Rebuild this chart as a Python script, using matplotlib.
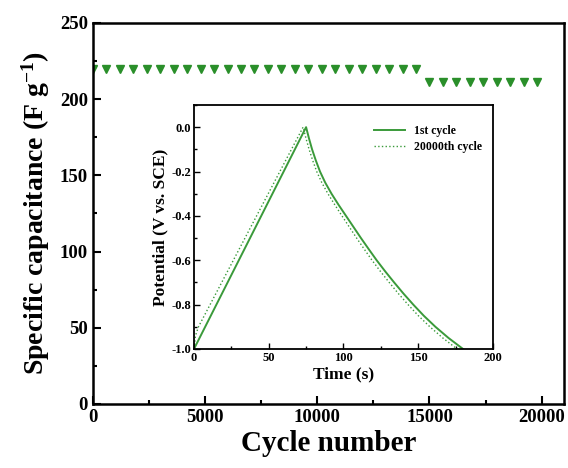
import matplotlib
matplotlib.use('Agg')
import matplotlib.pyplot as plt
from matplotlib.ticker import MultipleLocator

plt.rcParams['font.family'] = ['Liberation Serif', 'DejaVu Serif']
plt.rcParams['font.weight'] = 'bold'
plt.rcParams['mathtext.fontset'] = 'custom'
plt.rcParams['mathtext.rm'] = 'Liberation Serif:bold'
plt.rcParams['mathtext.bf'] = 'Liberation Serif:bold'
plt.rcParams['mathtext.default'] = 'bf'

# cycling stability (main plot)
cycles_a = [0, 600, 1200, 1800, 2400, 3000, 3600, 4200, 4800, 5400, 6000, 6600,
            7200, 7800, 8400, 9000, 9600, 10200, 10800, 11400, 12000, 12600,
            13200, 13800, 14400]
cap_a = [220] * len(cycles_a)
cycles_b = [15000, 15600, 16200, 16800, 17400, 18000, 18600, 19200, 19800]
cap_b = [211] * len(cycles_b)

# charge/discharge curves (inset)
t_first = [0, 75, 76.9, 79.0, 81.5, 84.3, 87.8, 92.0, 96.7, 101.7, 106.7, 111.7,
           116.9, 122.2, 127.9, 133.9, 140.1, 146.7, 153.7, 161.5, 170.2, 180]
v_first = [-1.0, 0.0, -0.05, -0.1, -0.15, -0.2, -0.25, -0.3, -0.35, -0.4, -0.45,
           -0.5, -0.55, -0.6, -0.65, -0.7, -0.75, -0.8, -0.85, -0.9, -0.95, -1.0]
t_last = [0, 1, 3, 73, 74.9, 77.0, 79.4, 82.1, 85.5, 89.6, 94.2, 99.0, 103.9, 108.8,
          113.9, 119.1, 124.7, 130.6, 136.7, 143.2, 150.1, 157.8, 166.4, 176]
v_last = [-1.0, -0.94, -0.90, 0.0, -0.05, -0.1, -0.15, -0.2, -0.25, -0.3, -0.35,
          -0.4, -0.45, -0.5, -0.55, -0.6, -0.65, -0.7, -0.75, -0.8, -0.85, -0.9,
          -0.95, -1.0]

green = '#2a8f2a'
line_green = '#3a9a3a'

fig = plt.figure(figsize=(5.68, 4.68), dpi=100)
ax = fig.add_axes([0.1637, 0.1368, 0.8293, 0.8142])

ax.plot(cycles_a + cycles_b, cap_a + cap_b, linestyle='none', marker='v',
        markersize=5.6, color=green)
ax.set_xlim(0, 21000)
ax.set_ylim(0, 250)
ax.xaxis.set_major_locator(MultipleLocator(5000))
ax.xaxis.set_minor_locator(MultipleLocator(2500))
ax.yaxis.set_major_locator(MultipleLocator(50))
ax.yaxis.set_minor_locator(MultipleLocator(25))
ax.tick_params(which='both', direction='in', width=1.5, labelsize=13.5)
ax.tick_params(which='major', length=6)
ax.tick_params(which='minor', length=3)
for s in ax.spines.values():
    s.set_linewidth(1.8)
ax.set_xlabel('Cycle number', fontsize=21, fontweight='bold', labelpad=3)
ax.set_ylabel('Specific capacitance (F g$^{-1}$)', fontsize=20, fontweight='bold', labelpad=6)

# inset
ins = fig.add_axes([0.3415, 0.2543, 0.5264, 0.5214])
ins.plot(t_first, v_first, color=line_green, linewidth=1.4, label='1st cycle')
ins.plot(t_last, v_last, color=line_green, linewidth=1.0, linestyle=':', label='20000th cycle')
ins.set_xlim(0, 200)
ins.set_ylim(-1.0, 0.1)
ins.xaxis.set_major_locator(MultipleLocator(50))
ins.xaxis.set_minor_locator(MultipleLocator(25))
ins.yaxis.set_minor_locator(MultipleLocator(0.1))
ins.set_yticks([-1.0, -0.8, -0.6, -0.4, -0.2, 0.0])
ins.set_yticklabels(['-1.0', '-0.8', '-0.6', '-0.4', '-0.2', '0.0'])
ins.tick_params(which='both', direction='in', width=1.0, labelsize=9, pad=2)
ins.tick_params(which='major', length=4)
ins.tick_params(which='minor', length=2)
for s in ins.spines.values():
    s.set_linewidth(1.3)
ins.set_xlabel('Time (s)', fontsize=12.5, fontweight='bold', labelpad=2)
ins.set_ylabel('Potential (V vs. SCE)', fontsize=12.5, fontweight='bold', labelpad=2)
ins.legend(loc='upper right', bbox_to_anchor=(1.0, 0.96), frameon=False,
           fontsize=8.5, handlelength=2.6, labelspacing=0.3)

fig.savefig('out.png', dpi=100)
plt.close(fig)
